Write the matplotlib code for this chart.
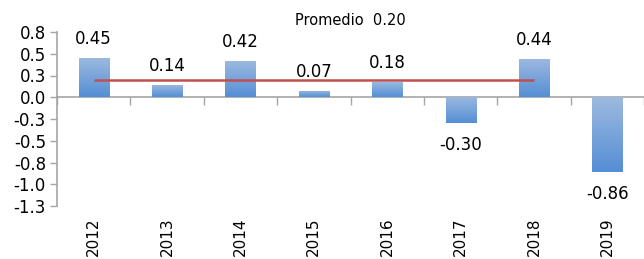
import numpy as np
import matplotlib
matplotlib.use("Agg")
import matplotlib.pyplot as plt
from matplotlib.colors import LinearSegmentedColormap
from matplotlib.patches import Rectangle
import matplotlib.transforms as mtransforms

years = ["2012", "2013", "2014", "2015", "2016", "2017", "2018", "2019"]
values = [0.45, 0.14, 0.42, 0.07, 0.18, -0.30, 0.44, -0.86]
average = 0.20
avg_label = "Promedio  0.20"
value_labels = ["0.45", "0.14", "0.42", "0.07", "0.18", "-0.30", "0.44", "-0.86"]
ytick_values = [0.75, 0.5, 0.25, 0.0, -0.25, -0.5, -0.75, -1.0, -1.25]
ytick_labels = ["0.8", "0.5", "0.3", "0.0", "-0.3", "-0.5", "-0.8", "-1.0", "-1.3"]

plt.rcParams['font.family'] = ['DejaVu Sans']

fig = plt.figure(figsize=(6.44, 2.59), dpi=100)
ax = fig.add_axes([57/644, (259-206)/259, 1 - 57/644, (206-32)/259])

x = np.arange(len(years))
width = 0.41
cmap = LinearSegmentedColormap.from_list("g", ["#558ED5", "#9DBAE0"])
grad = np.linspace(0, 1, 100).reshape(-1, 1)

bars = ax.bar(x, values, width=width, color="none", edgecolor="none", zorder=2)
for b in bars:
    x0 = b.get_x(); w = b.get_width()
    y0 = min(b.get_y(), b.get_y() + b.get_height())
    h = abs(b.get_height())
    im = ax.imshow(grad, cmap=cmap, aspect='auto', origin='lower',
                   extent=[x0, x0 + w, y0, y0 + h], zorder=2, interpolation='bilinear')
    rect = Rectangle((x0, y0), w, h, transform=ax.transData, facecolor='none', edgecolor='none')
    ax.add_patch(rect)
    im.set_clip_path(rect)

# average line from first to seventh category
ax.plot([x[0], x[6]], [average, average], color="#C0504D", lw=1.8, zorder=3, solid_capstyle='butt')

for xi, v, lab in zip(x, values, value_labels):
    if v >= 0:
        ax.annotate(lab, (xi, v), xytext=(0, 7), textcoords='offset points',
                    ha='center', va='bottom', fontsize=12, color='#000000', zorder=4)
    else:
        ax.annotate(lab, (xi, v), xytext=(0, -9), textcoords='offset points',
                    ha='center', va='top', fontsize=12, color='#000000', zorder=4)

ax.text(0.50, 1.025, avg_label, transform=ax.transAxes, ha='center', va='bottom', fontsize=10.5)

ax.set_xlim(-0.5, len(years) - 0.5)
ax.set_ylim(-1.25, 0.75)
ax.set_yticks(ytick_values)
ax.set_yticklabels(ytick_labels, fontsize=12)
ax.set_xticks(np.arange(-0.5, len(years), 1.0))
ax.set_xticklabels([])
ax.tick_params(axis='x', direction='out', length=6, color='#A6A6A6', width=1)
ax.tick_params(axis='y', direction='out', length=5, color='#A6A6A6', width=1, pad=3)

for s in ['top', 'right']:
    ax.spines[s].set_visible(False)
ax.spines['bottom'].set_position(('data', 0))
ax.spines['bottom'].set_color('#A6A6A6')
ax.spines['left'].set_color('#A6A6A6')
ax.spines['bottom'].set_linewidth(1.2)
ax.spines['left'].set_linewidth(1.2)
ax.spines['bottom'].set_zorder(1)

trans = mtransforms.blended_transform_factory(ax.transData, ax.transAxes)
for xi, yr in zip(x, years):
    ax.text(xi, -0.065, yr, transform=trans, rotation=90, ha='center', va='top', fontsize=11)

fig.savefig("out.png", dpi=100)
